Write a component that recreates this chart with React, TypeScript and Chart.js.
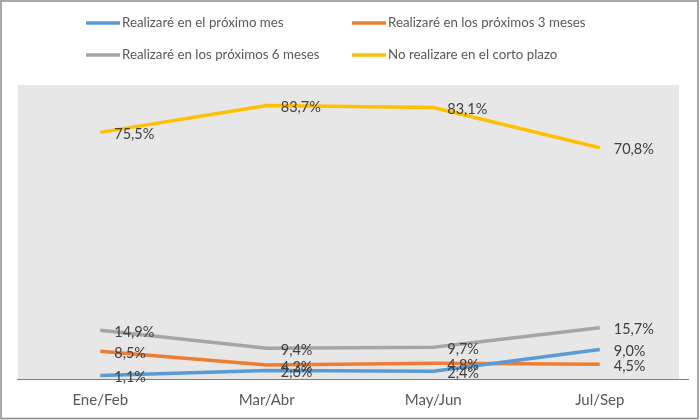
import { useEffect, useRef } from "react";
import { Chart, registerables } from "chart.js";

Chart.register(...registerables);

// periods on the x axis
const periods = ["Ene/Feb", "Mar/Abr", "May/Jun", "Jul/Sep"];

// series (percent)
const proximoMes = [1.1, 2.6, 2.4, 9.0];
const proximos3Meses = [8.5, 4.3, 4.8, 4.5];
const proximos6Meses = [14.9, 9.4, 9.7, 15.7];
const noRealizare = [75.5, 83.7, 83.1, 70.8];

const seriesNames = [
  "Realizaré en el próximo mes",
  "Realizaré en los próximos 3 meses",
  "Realizaré en los próximos 6 meses",
  "No realizare en el corto plazo",
];
const seriesColors = ["#5B9BD5", "#ED7D31", "#A5A5A5", "#FFC000"];

const FONT = "Lato, 'Open Sans', sans-serif";
const fmt = (v: number) => v.toFixed(1).replace(".", ",") + "%";

export default function App() {
  const canvasRef = useRef<HTMLCanvasElement>(null);

  useEffect(() => {
    document.body.style.margin = "0";
    const ctx = canvasRef.current!.getContext("2d")!;

    // grey plot background, frame and x axis line
    const backdrop = {
      id: "backdrop",
      beforeDraw: (chart: any) => {
        const { ctx, chartArea } = chart;
        ctx.save();
        ctx.fillStyle = "#ffffff";
        ctx.fillRect(0, 0, chart.width, chart.height);
        ctx.strokeStyle = "#8c8c8c";
        ctx.lineWidth = 1.5;
        ctx.strokeRect(1, 1, chart.width - 3, chart.height - 2.5);
        ctx.fillStyle = "#e7e7e7";
        ctx.fillRect(chartArea.left + 1, chartArea.top, chartArea.right - chartArea.left - 5, chartArea.bottom - chartArea.top);
        ctx.strokeStyle = "#7f7f7f";
        ctx.lineWidth = 1;
        ctx.beginPath();
        ctx.moveTo(chartArea.left, chartArea.bottom + 0.5);
        ctx.lineTo(chartArea.right + 6, chartArea.bottom + 0.5);
        ctx.stroke();
        ctx.restore();
      },
    };

    // two-column legend at the top
    const gridLegend = {
      id: "gridLegend",
      afterDraw: (chart: any) => {
        const { ctx } = chart;
        const colX = [86, 352];
        const rowY = [23, 55];
        ctx.save();
        ctx.font = `13.3px ${FONT}`;
        ctx.textBaseline = "middle";
        ctx.fillStyle = "#595959";
        seriesNames.forEach((name, i) => {
          const x = colX[i % 2];
          const y = rowY[Math.floor(i / 2)];
          ctx.strokeStyle = seriesColors[i];
          ctx.lineWidth = 3.5;
          ctx.beginPath();
          ctx.moveTo(x, y);
          ctx.lineTo(x + 34, y);
          ctx.stroke();
          ctx.fillText(name, x + 36, y);
        });
        ctx.restore();
      },
    };

    // value labels to the right of each point
    const valueLabels = {
      id: "valueLabels",
      afterDatasetsDraw: (chart: any) => {
        const { ctx } = chart;
        ctx.save();
        ctx.font = `14.5px ${FONT}`;
        ctx.textBaseline = "middle";
        ctx.textAlign = "left";
        ctx.fillStyle = "#404040";
        chart.data.datasets.forEach((ds: any, di: number) => {
          chart.getDatasetMeta(di).data.forEach((pt: any, i: number) => {
            ctx.fillText(fmt(ds.data[i]), pt.x + 14, pt.y + 2);
          });
        });
        ctx.restore();
      },
    };

    const seriesData = [proximoMes, proximos3Meses, proximos6Meses, noRealizare];

    const chart = new Chart(ctx, {
      type: "line",
      data: {
        labels: periods,
        datasets: seriesData.map((d, i) => ({
          label: seriesNames[i],
          data: d,
          borderColor: seriesColors[i],
          backgroundColor: seriesColors[i],
          borderWidth: 3.5,
          pointRadius: 0,
          tension: 0,
          fill: false,
        })),
      },
      options: {
        animation: false,
        responsive: false,
        devicePixelRatio: 1,
        layout: { padding: { top: 85, left: 17, right: 17, bottom: -1 } },
        plugins: {
          legend: { display: false },
          tooltip: { enabled: false },
        },
        scales: {
          x: {
            offset: true,
            grid: { display: false, drawTicks: false },
            border: { display: false },
            ticks: {
              color: "#595959",
              font: { size: 15, family: FONT },
              padding: 12,
              maxRotation: 0,
            },
          },
          y: {
            display: false,
            min: 0,
            max: 90,
          },
        },
      },
      plugins: [backdrop, valueLabels, gridLegend],
    });

    return () => chart.destroy();
  }, []);

  return (
    <div style={{ position: "fixed", left: 0, top: 0, width: 700, height: 420 }}>
      <canvas ref={canvasRef} width={700} height={420} />
    </div>
  );
}
